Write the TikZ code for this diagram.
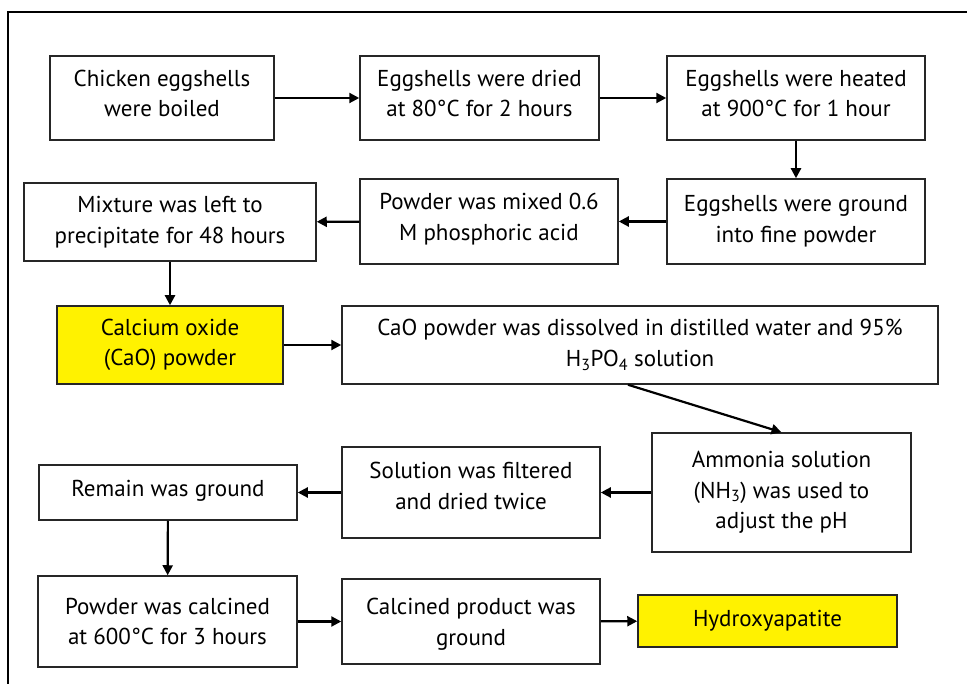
\documentclass[tikz,border=0pt]{standalone}
\usepackage{fontspec}
\setmainfont{PT Sans}
\usetikzlibrary{arrows.meta}
\tikzset{
    stepbox/.style={draw=black!85, line width=1.5pt, rectangle, align=center, inner sep=0pt,
        font=\fontsize{23}{30.5}\selectfont},
    keybox/.style={stepbox, fill=yellow},
    flow/.style={line width=2.2pt, -{Triangle[length=10pt,width=10pt]}}
}
\begin{document}
\begin{tikzpicture}[x=1pt,y=-1pt]
    \useasboundingbox (0,0) rectangle (967,684);
    \draw[line width=1.5pt] (8,684) -- (8,12) -- (967,12);

    \node[stepbox, minimum width=224pt, minimum height=84pt, text depth=9pt] (boil)  at (162,98)    {Chicken eggshells\\were boiled};
    \node[stepbox, minimum width=239pt, minimum height=84pt, text depth=9pt] (dry)   at (479.5,98)  {Eggshells were dried\\at 80°C for 2 hours};
    \node[stepbox, minimum width=258pt, minimum height=84pt, text depth=9pt] (heat)  at (796,98)    {Eggshells were heated\\at 900°C for 1 hour};
    \node[stepbox, minimum width=258pt, minimum height=85pt] (grind)    at (796,221.5) {Eggshells were ground\\into fine powder};
    \node[stepbox, minimum width=258pt, minimum height=85pt, text depth=9pt] (mix)   at (489,221.5) {Powder was mixed 0.6\\M phosphoric acid};
    \node[stepbox, minimum width=292pt, minimum height=78pt] (settle)   at (170,222)   {Mixture was left to\\precipitate for 48 hours};
    \node[keybox,  minimum width=226pt, minimum height=78pt] (cao)      at (170,345)   {Calcium oxide\\(CaO) powder};
    \node[stepbox, minimum width=596pt, minimum height=78pt] (dissolve) at (640,345)   {CaO powder was dissolved in distilled water and 95\%\\H\textsubscript{3}PO\textsubscript{4} solution};
    \node[stepbox, minimum width=259pt, minimum height=119pt] (ammonia) at (781.5,492.5) {Ammonia solution\\(NH\textsubscript{3}) was used to\\adjust the pH};
    \node[stepbox, minimum width=258pt, minimum height=91pt, text depth=13pt] (filter) at (471,492.5) {Solution was filtered\\and dried twice};
    \node[stepbox, minimum width=258pt, minimum height=55pt, text depth=9pt] (remain) at (168,492.5) {Remain was ground};
    \node[stepbox, minimum width=259pt, minimum height=91pt] (calcine)  at (167.5,621.5) {Powder was calcined\\at 600°C for 3 hours};
    \node[stepbox, minimum width=258pt, minimum height=85pt, text height=52pt] (product) at (471,621.5) {Calcined product was\\ground};
    \node[keybox,  minimum width=259pt, minimum height=52pt] (hap)      at (767.5,621) {Hydroxyapatite};

    \draw[flow] (boil) -- (dry);
    \draw[flow] (dry) -- (heat);
    \draw[flow] (heat) -- (grind);
    \draw[flow] (grind) -- (mix);
    \draw[flow] (mix) -- (settle);
    \draw[flow] (settle) -- (cao);
    \draw[flow] (cao) -- (dissolve);
    \draw[flow] ([xshift=-12pt]dissolve.south) -- (ammonia.north);
    \draw[flow] (ammonia) -- (filter);
    \draw[flow] (filter) -- (remain);
    \draw[flow] (remain) -- (calcine);
    \draw[flow] (calcine) -- (product);
    \draw[flow] (product) -- (hap);
\end{tikzpicture}
\end{document}
